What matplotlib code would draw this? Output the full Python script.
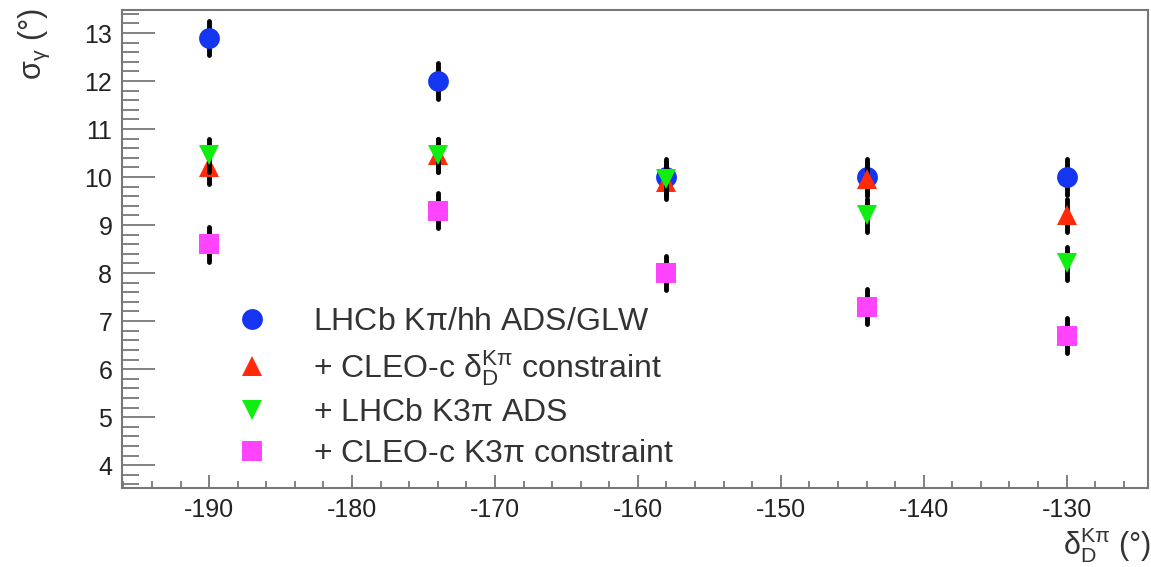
import matplotlib
matplotlib.use("Agg")
import matplotlib.pyplot as plt
from matplotlib.ticker import MultipleLocator

plt.rcParams['font.family'] = ['Liberation Sans', 'DejaVu Sans']
plt.rcParams['mathtext.fontset'] = 'custom'
plt.rcParams['mathtext.rm'] = 'Liberation Sans'
plt.rcParams['mathtext.it'] = 'Liberation Sans'
plt.rcParams['axes.unicode_minus'] = False

# strong phase values (deg)
delta_d = [-190, -174, -158, -144, -130]

# sigma(gamma) in degrees for each configuration
lhcb_kpi = [12.9, 12.0, 10.0, 10.0, 10.0]
lhcb_kpi_err = [0.35, 0.37, 0.37, 0.37, 0.37]
cleo_kpi = [10.2, 10.45, 9.9, 9.95, 9.2]
cleo_kpi_err = [0.35, 0.35, 0.35, 0.35, 0.35]
lhcb_k3pi = [10.45, 10.45, 9.97, 9.2, 8.2]
lhcb_k3pi_err = [0.35, 0.35, 0.35, 0.35, 0.35]
cleo_k3pi = [8.6, 9.3, 8.0, 7.3, 6.7]
cleo_k3pi_err = [0.36, 0.36, 0.36, 0.36, 0.36]

labels = [
    r'LHCb K$\mathrm{\pi}$/hh ADS/GLW',
    r'+ CLEO-c $\mathrm{\delta_{D}^{K\pi}}$ constraint',
    r'+ LHCb K3$\mathrm{\pi}$ ADS',
    r'+ CLEO-c K3$\mathrm{\pi}$ constraint',
]

fig = plt.figure(figsize=(11.51, 5.67), dpi=100)
ax = fig.add_axes([0.106, 0.139, 0.8914, 0.8434])

series = [
    (lhcb_kpi, lhcb_kpi_err, 'o', '#1436f0', 15),
    (cleo_kpi, cleo_kpi_err, '^', '#ff2a0a', 15),
    (lhcb_k3pi, lhcb_k3pi_err, 'v', '#10ee10', 15),
    (cleo_k3pi, cleo_k3pi_err, 's', '#ff44ff', 14),
]

handles = []
for i, (vals, errs, m, c, ms) in enumerate(series):
    eb = ax.errorbar(delta_d, vals, yerr=errs, fmt='none', ecolor='black',
                     elinewidth=3.5, capsize=0, zorder=2 + 2 * i)
    eb[2][0].set_capstyle('round')
    h, = ax.plot(delta_d, vals, linestyle='none', marker=m, color=c,
                 markersize=ms, markeredgewidth=0, zorder=3 + 2 * i)
    handles.append(h)

ax.set_xlim(-196.1, -124.3)
ax.set_ylim(3.52, 13.48)

ax.xaxis.set_major_locator(MultipleLocator(10))
ax.xaxis.set_minor_locator(MultipleLocator(2))
ax.yaxis.set_major_locator(MultipleLocator(1))
ax.yaxis.set_minor_locator(MultipleLocator(0.2))

ax.tick_params(axis='x', which='major', direction='in', length=9.5, width=1.3,
               color='#777777', labelsize=18, labelcolor='#222222', pad=7)
ax.tick_params(axis='x', which='minor', direction='in', length=5, width=1.3,
               color='#777777')
ax.tick_params(axis='y', which='major', direction='in', length=24, width=1.3,
               color='#777777', labelsize=18, labelcolor='#222222', pad=7)
ax.tick_params(axis='y', which='minor', direction='in', length=12, width=1.3,
               color='#777777')
for sp in ax.spines.values():
    sp.set_color('#777777')
    sp.set_linewidth(1.5)

leg = ax.legend(handles, labels, loc='upper left', bbox_to_anchor=(0.111, 0.378),
                frameon=False, fontsize=23, handlelength=1.0, handletextpad=1.4,
                labelspacing=0.33, labelcolor='#333333', borderaxespad=0,
                borderpad=0)
leg.set_zorder(1)

fig.text(0.030, 0.985, r'$\mathrm{\sigma_{\gamma}}$ (°)', rotation=90,
         ha='center', va='top', fontsize=22, color='#333333')
fig.text(1.0, 0.003, r'$\mathrm{\delta_{D}^{K\pi}}$ (°)', ha='right',
         va='bottom', fontsize=22, color='#333333')

fig.savefig('out.png', dpi=100)
